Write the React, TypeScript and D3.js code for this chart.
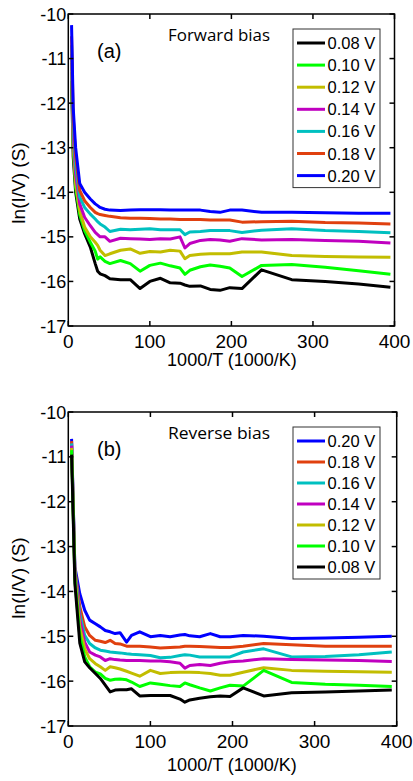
import React from "react";
import * as d3 from "d3";

// ---- data ----
const voltLabels = ["0.08 V", "0.10 V", "0.12 V", "0.14 V", "0.16 V", "0.18 V", "0.20 V"];
const voltColors = ["#000000", "#00ff00", "#c2bd00", "#c000c0", "#00c0c0", "#e0400f", "#0000ff"];

const xTicks = [0, 100, 200, 300, 400];
const yTicks = [-10, -11, -12, -13, -14, -15, -16, -17];

// (a) forward bias
const fwdX = [4, 6, 9, 14, 20, 27, 33, 36, 39, 45, 51, 64, 76, 88, 100, 113, 125, 137, 143, 149, 162, 174, 186, 198, 213, 237, 274, 315, 356, 395];
const fwd008 = [-11.5, -13.2, -14.0, -14.6, -14.93, -15.23, -15.6, -15.77, -15.83, -15.87, -15.94, -15.96, -15.96, -16.16, -16.0, -15.93, -16.03, -16.04, -16.08, -16.11, -16.1, -16.18, -16.2, -16.14, -16.16, -15.74, -15.96, -16.0, -16.06, -16.13];
const fwd010 = [-11.3, -13.0, -13.9, -14.5, -14.86, -15.12, -15.32, -15.5, -15.45, -15.55, -15.6, -15.53, -15.6, -15.77, -15.64, -15.59, -15.65, -15.7, -15.84, -15.75, -15.67, -15.63, -15.66, -15.7, -15.89, -15.64, -15.62, -15.68, -15.76, -15.84];
const fwd012 = [-11.1, -12.9, -13.8, -14.41, -14.78, -15.0, -15.12, -15.19, -15.3, -15.42, -15.38, -15.3, -15.27, -15.37, -15.33, -15.34, -15.3, -15.32, -15.49, -15.42, -15.39, -15.38, -15.38, -15.38, -15.34, -15.34, -15.42, -15.44, -15.45, -15.46];
const fwd014 = [-10.9, -12.7, -13.6, -14.26, -14.56, -14.75, -14.9, -14.95, -15.0, -15.0, -15.1, -15.03, -15.04, -15.05, -15.06, -15.04, -15.05, -15.0, -15.25, -15.15, -15.08, -15.06, -15.07, -15.1, -15.04, -15.07, -15.06, -15.08, -15.1, -15.14];
const fwd016 = [-10.7, -12.5, -13.4, -14.11, -14.34, -14.49, -14.6, -14.66, -14.71, -14.78, -14.88, -14.83, -14.84, -14.83, -14.82, -14.84, -14.84, -14.84, -14.95, -14.89, -14.88, -14.86, -14.86, -14.86, -14.9, -14.85, -14.82, -14.86, -14.88, -14.91];
const fwd018 = [-10.5, -12.3, -13.2, -13.96, -14.19, -14.34, -14.45, -14.48, -14.5, -14.52, -14.54, -14.57, -14.58, -14.58, -14.59, -14.6, -14.6, -14.61, -14.61, -14.61, -14.61, -14.62, -14.62, -14.62, -14.67, -14.66, -14.65, -14.68, -14.69, -14.71];
const fwd020 = [-10.25, -12.1, -13.0, -13.8, -14.0, -14.15, -14.26, -14.3, -14.34, -14.38, -14.4, -14.41, -14.4, -14.39, -14.39, -14.39, -14.4, -14.4, -14.4, -14.4, -14.4, -14.43, -14.45, -14.4, -14.4, -14.45, -14.45, -14.46, -14.47, -14.47];

// (b) reverse bias
const revX = [4, 5, 8, 14, 20, 26, 33, 39, 45, 51, 57, 63, 71, 77, 87, 100, 112, 124, 136, 142, 148, 160, 173, 185, 197, 213, 238, 272, 313, 354, 394];
const rev020 = [-10.6, -11.3, -13.45, -14.05, -14.42, -14.64, -14.72, -14.79, -14.87, -14.9, -14.94, -14.92, -15.13, -14.98, -14.9, -15.01, -14.98, -15.01, -14.97, -14.96, -14.99, -15.01, -14.94, -15.01, -15.01, -14.98, -15.0, -15.05, -15.04, -15.02, -15.0];
const rev018 = [-10.65, -11.35, -13.5, -14.34, -14.79, -14.98, -15.09, -15.11, -15.14, -15.09, -15.16, -15.17, -15.22, -15.22, -15.22, -15.24, -15.26, -15.25, -15.24, -15.22, -15.22, -15.23, -15.24, -15.25, -15.25, -15.22, -15.16, -15.19, -15.22, -15.22, -15.22];
const rev016 = [-10.7, -11.4, -13.55, -14.5, -14.98, -15.16, -15.26, -15.31, -15.33, -15.35, -15.36, -15.37, -15.39, -15.4, -15.41, -15.43, -15.48, -15.47, -15.43, -15.41, -15.42, -15.46, -15.46, -15.46, -15.46, -15.35, -15.28, -15.46, -15.45, -15.41, -15.35];
const rev014 = [-10.75, -11.45, -13.6, -14.62, -15.13, -15.35, -15.42, -15.46, -15.54, -15.5, -15.52, -15.53, -15.54, -15.54, -15.54, -15.55, -15.55, -15.57, -15.6, -15.71, -15.65, -15.63, -15.65, -15.6, -15.57, -15.55, -15.5, -15.52, -15.53, -15.54, -15.56];
const rev012 = [-10.8, -11.5, -13.65, -14.8, -15.28, -15.5, -15.61, -15.68, -15.76, -15.68, -15.7, -15.73, -15.78, -15.82, -15.89, -15.76, -15.83, -15.81, -15.8, -15.8, -15.8, -15.81, -15.83, -15.87, -15.87, -15.8, -15.7, -15.76, -15.78, -15.79, -15.8];
const rev010 = [-10.85, -11.55, -13.75, -14.99, -15.46, -15.68, -15.8, -15.84, -15.94, -15.98, -15.96, -15.95, -15.97, -16.02, -16.12, -16.04, -16.07, -16.1, -16.12, -16.04, -16.08, -16.15, -16.22, -16.15, -16.09, -16.11, -15.76, -16.03, -16.07, -16.09, -16.12];
const rev008 = [-10.95, -11.65, -13.82, -15.15, -15.57, -15.7, -15.83, -15.94, -16.09, -16.24, -16.2, -16.19, -16.19, -16.17, -16.33, -16.32, -16.32, -16.32, -16.4, -16.47, -16.42, -16.38, -16.35, -16.33, -16.34, -16.15, -16.33, -16.26, -16.24, -16.22, -16.2];

const FONT = "Arial, 'Liberation Sans', sans-serif";
const TITLE_FONT = "'Open Sans', Lato, sans-serif";

type Series = { label: string; color: string; ys: number[] };

function Panel(props: {
  top: number; bottom: number; right: number;
  xs: number[]; series: Series[];
  tag: string; title: string; legendTop: number; legendRow: number;
  xLabelDy: number; yLabelShift: number;
}) {
  const { top, bottom, right, xs, series, tag, title, legendTop, legendRow, xLabelDy, yLabelShift } = props;
  const left = 68.3;
  const x = d3.scaleLinear().domain([0, 400]).range([left, right]);
  const y = d3.scaleLinear().domain([-17, -10]).range([bottom, top]);
  const line = d3.line<number>().x((_, i) => x(xs[i])).y((d) => y(d));
  const tk = 5;
  const legLeft = 293, legRight = 380;
  const legBottom = legendTop + 14 + legendRow * (series.length - 1) + 12;

  return (
    <g>
      <defs>
        <clipPath id={"clip" + tag}>
          <rect x={left} y={top} width={right - left} height={bottom - top} />
        </clipPath>
      </defs>
      <g clipPath={`url(#clip${tag})`}>
        {series.map((s) => (
          <path key={s.label} d={line(s.ys) || ""} fill="none" stroke={s.color}
            strokeWidth={3} strokeLinejoin="round" />
        ))}
      </g>
      {/* frame + ticks */}
      <rect x={left} y={top} width={right - left} height={bottom - top} fill="none" stroke="#000" strokeWidth={1.5} />
      {xTicks.map((t) => (
        <g key={"x" + t}>
          <line x1={x(t)} x2={x(t)} y1={bottom} y2={bottom - tk} stroke="#000" strokeWidth={1.5} />
          <line x1={x(t)} x2={x(t)} y1={top} y2={top + tk} stroke="#000" strokeWidth={1.5} />
          <text x={x(t)} y={bottom + 21.5} fontSize={19} textAnchor="middle" fontFamily={FONT}>{t}</text>
        </g>
      ))}
      {yTicks.map((t) => (
        <g key={"y" + t}>
          <line x1={left} x2={left + tk} y1={y(t)} y2={y(t)} stroke="#000" strokeWidth={1.5} />
          <line x1={right} x2={right - tk} y1={y(t)} y2={y(t)} stroke="#000" strokeWidth={1.5} />
          <text x={left - 2} y={y(t) + 6.5} fontSize={18} textAnchor="end" fontFamily={FONT}>{t}</text>
        </g>
      ))}
      <text x={232} y={bottom + xLabelDy} fontSize={18} textAnchor="middle" fontFamily={FONT}>1000/T (1000/K)</text>
      <text transform={`translate(25,${(top + bottom) / 2 + yLabelShift}) rotate(-90)`} fontSize={19}
        textAnchor="middle" fontFamily={FONT}>ln(I/V) (S)</text>
      <text x={97} y={top + 44} fontSize={20} fontFamily={FONT}>({tag})</text>
      <text x={168} y={top + 27} fontSize={15.5} fontFamily={TITLE_FONT}
        textLength={102} lengthAdjust="spacingAndGlyphs">{title}</text>
      {/* legend */}
      <rect x={legLeft} y={legendTop} width={legRight - legLeft} height={legBottom - legendTop}
        fill="#fff" stroke="#333" strokeWidth={1} />
      {series.map((s, i) => {
        const ly = legendTop + 14 + i * legendRow;
        return (
          <g key={"l" + s.label}>
            <line x1={297} x2={325} y1={ly} y2={ly} stroke={s.color} strokeWidth={3} />
            <text x={327.5} y={ly + 6} fontSize={16.5} fontFamily={FONT}>{s.label}</text>
          </g>
        );
      })}
    </g>
  );
}

export default function App() {
  const fwdVals = [fwd008, fwd010, fwd012, fwd014, fwd016, fwd018, fwd020];
  const fwdSeries = fwdVals.map((ys, i) => ({ label: voltLabels[i], color: voltColors[i], ys }));
  const revVals = [rev020, rev018, rev016, rev014, rev012, rev010, rev008];
  const revSeries = revVals.map((ys, i) => ({ label: voltLabels[6 - i], color: voltColors[6 - i], ys }));

  return (
    <svg width={413} height={781} style={{ position: "absolute", left: 0, top: 0, background: "#fff" }}>
      <rect width={413} height={781} fill="#fff" />
      <Panel top={14} bottom={326} right={394.5} xs={fwdX} series={fwdSeries}
        tag="a" title="Forward bias" legendTop={29} legendRow={22.1} xLabelDy={40} yLabelShift={13} />
      <Panel top={412} bottom={726} right={396.7} xs={revX} series={revSeries}
        tag="b" title="Reverse bias" legendTop={427} legendRow={21} xLabelDy={45} yLabelShift={9} />
    </svg>
  );
}
